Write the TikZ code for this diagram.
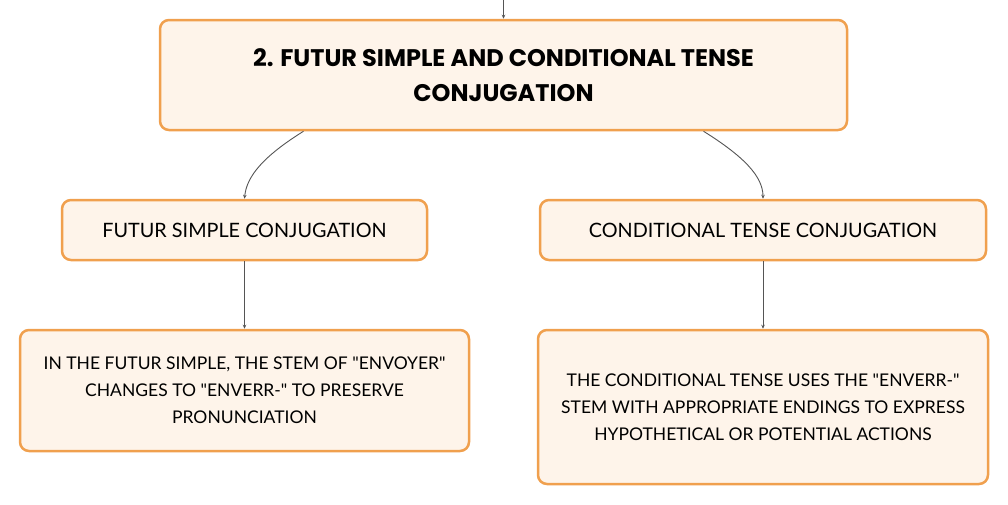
\documentclass[tikz,border=0pt]{standalone}
\usepackage{fontspec}
\setmainfont{Lato}[Ligatures=TeXOff]
\newfontfamily\headfont{Poppins}
\usetikzlibrary{arrows.meta,calc,positioning}
\definecolor{boxline}{HTML}{F0A04E}
\definecolor{boxfill}{HTML}{FEF4EA}
\definecolor{linkgray}{HTML}{555555}
\tikzset{>={Stealth[length=4pt,width=3.5pt]},
  every node/.style={font=\fontsize{17.5}{27}\selectfont},
  topic/.style={draw=boxline,fill=boxfill,line width=2.5pt,rounded corners=9pt,align=center,inner sep=0pt},
  subtopic/.style={topic,minimum height=60pt,font=\fontsize{19.8}{27}\selectfont},
  link/.style={->,draw=linkgray,line width=.9pt}}
\begin{document}
\begin{tikzpicture}[x=1pt,y=1pt]
\useasboundingbox (0,0) rectangle (1008,-504);
\node[topic,minimum width=687pt,minimum height=110pt,font=\headfont\bfseries\fontsize{24}{35}\selectfont] (title) at (503.5,-75)
  {2. FUTUR SIMPLE AND CONDITIONAL TENSE\\CONJUGATION};
\node[subtopic,minimum width=365pt] (futur) at (244.5,-230) {FUTUR SIMPLE CONJUGATION};
\node[subtopic,minimum width=446pt] (cond) at (763,-230) {CONDITIONAL TENSE CONJUGATION};
\node[topic,minimum width=449pt,minimum height=121pt] (futurtxt) at (244.5,-390.5)
  {IN THE FUTUR SIMPLE, THE STEM OF "ENVOYER"\\CHANGES TO "ENVERR-" TO PRESERVE\\PRONUNCIATION};
\node[topic,minimum width=450pt,minimum height=154pt] (condtxt) at (763,-407)
  {THE CONDITIONAL TENSE USES THE "ENVERR-"\\STEM WITH APPROPRIATE ENDINGS TO EXPRESS\\HYPOTHETICAL OR POTENTIAL ACTIONS};
\coordinate (parent) at (503.5,0);
\draw[link] (parent) -- (title.north);
\draw[link] ([xshift=-200pt]title.south) .. controls ([xshift=-240pt,yshift=-25pt]title.south) and ([xshift=-257pt,yshift=-45pt]title.south) .. (futur.north);
\draw[link] ([xshift=200pt]title.south) .. controls ([xshift=240pt,yshift=-25pt]title.south) and ([xshift=259.5pt,yshift=-45pt]title.south) .. (cond.north);
\draw[link] (futur) -- (futurtxt);
\draw[link] (cond) -- (condtxt);
\end{tikzpicture}
\end{document}
